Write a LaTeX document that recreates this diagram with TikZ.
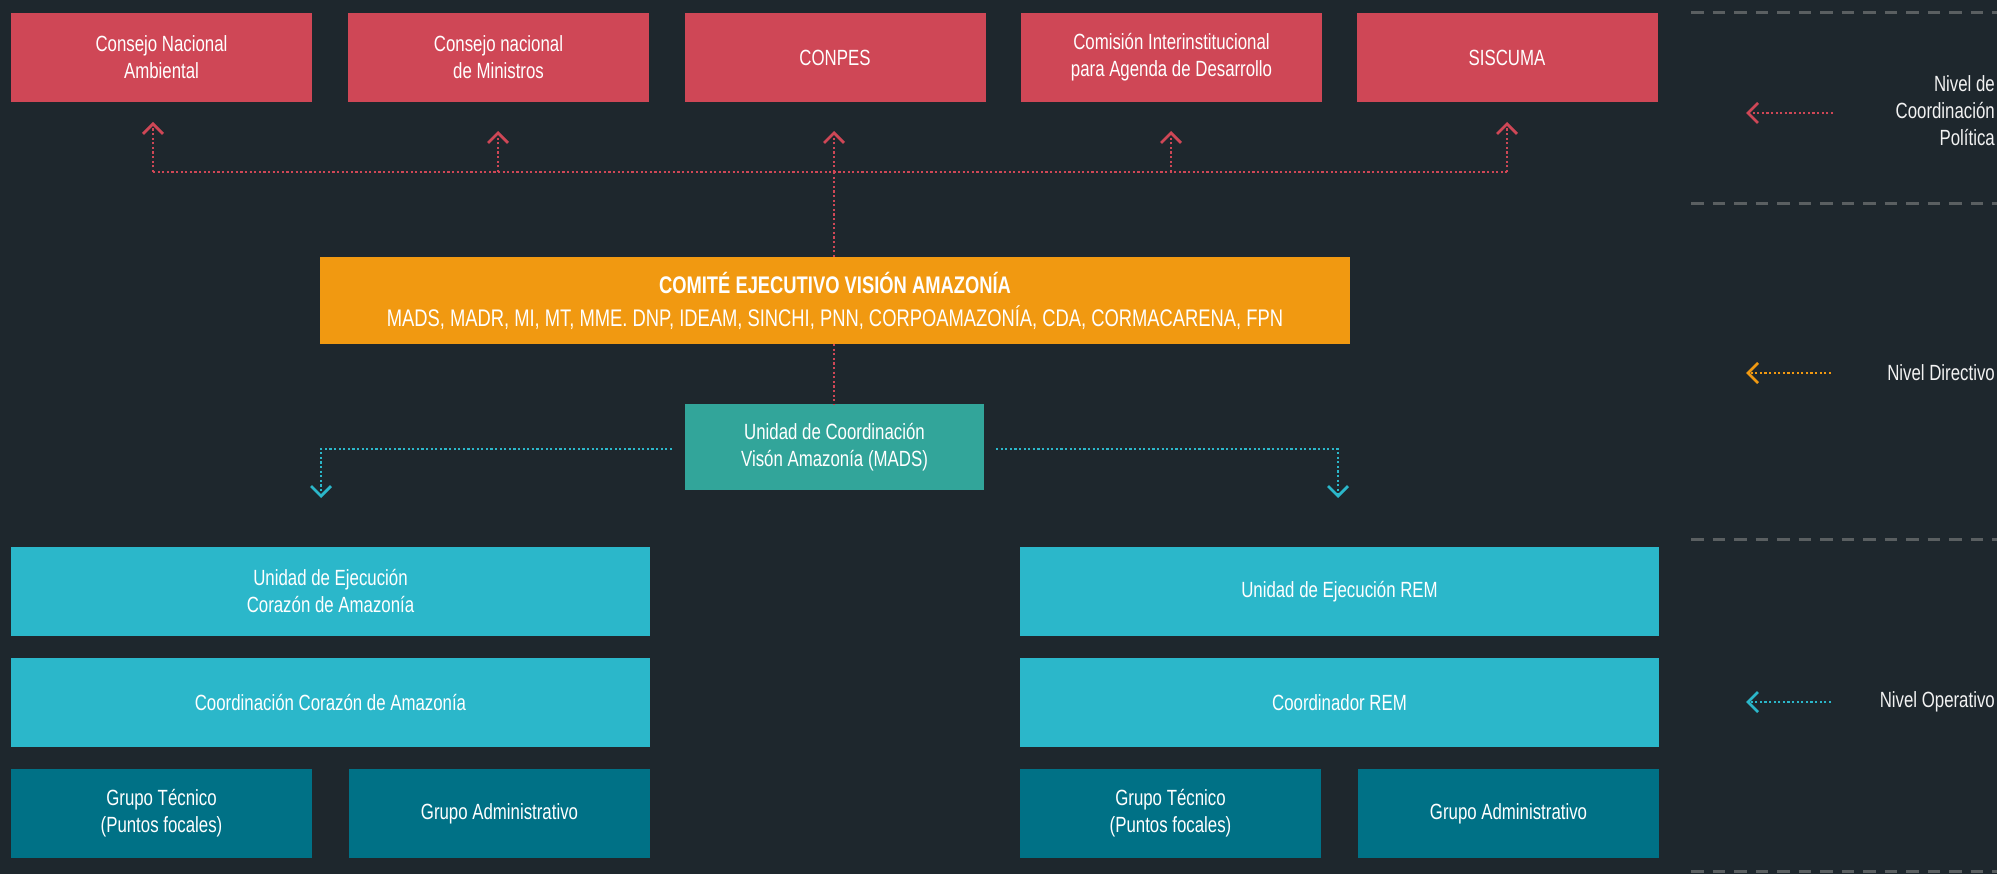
\documentclass[tikz,border=0pt]{standalone}
\usepackage{fontspec}
\setmainfont{Liberation Sans}[FakeStretch=0.765]
\usetikzlibrary{arrows.meta,calc}
\definecolor{bg}{HTML}{1E272D}
\definecolor{cred}{HTML}{CF4756}
\definecolor{corange}{HTML}{F19911}
\definecolor{cteal}{HTML}{32A59A}
\definecolor{ccyan}{HTML}{2BB7CA}
\definecolor{cdark}{HTML}{007186}
\definecolor{cgray}{HTML}{5A5F61}
\definecolor{ctext}{HTML}{F2F2F2}
\begin{document}
\begin{tikzpicture}[x=1pt,y=-1pt,
  box/.style={rectangle, inner sep=0pt, outer sep=0pt, text=white, align=center,
    font=\fontsize{22}{27}\selectfont, minimum height=89pt},
  redbox/.style={box, fill=cred, minimum width=301pt},
  widebox/.style={box, fill=ccyan, minimum width=639pt},
  smallbox/.style={box, fill=cdark, minimum width=301pt},
  dots/.style={line width=2.2pt, dash pattern=on 2.2pt off 2.4pt},
  tipped/.style={-{Straight Barb[length=10pt,width=20pt,line width=0.6pt 1]}},
  sep/.style={cgray, line width=3pt, dash pattern=on 12.5pt off 9pt},
  legend/.style={text=ctext, align=right, anchor=east, inner sep=0pt,
    font=\fontsize{22}{27}\selectfont},
]
\useasboundingbox (0,0) rectangle (1997,874);
\fill[bg] (0,0) rectangle (1997,874);

% separators
\foreach \yy in {13,204,539,871}
  \draw[sep] (1691,\yy) -- (1997,\yy);

% top row
\node[redbox] (b1) at (161.5,57.5) {Consejo Nacional\\Ambiental};
\node[redbox] (b2) at (498.5,57.5) {Consejo nacional\\de Ministros};
\node[redbox] (b3) at (835,57.5) {CONPES};
\node[redbox] (b4) at (1171.5,57.5) {Comisión Interinstitucional\\para Agenda de Desarrollo};
\node[redbox] (b5) at (1507,57.5) {SISCUMA};

% executive committee
\node[box, fill=corange, minimum width=1030pt, minimum height=87pt] (ce) at (835,300.5)
  {{\fontsize{24}{27}\selectfont\bfseries COMITÉ EJECUTIVO VISIÓN AMAZONÍA}\\[6pt]
   {\fontsize{24}{27}\selectfont MADS, MADR, MI, MT, MME. DNP, IDEAM, SINCHI, PNN, CORPOAMAZONÍA, CDA, CORMACARENA, FPN}};

% coordination unit
\node[box, fill=cteal, minimum width=299pt, minimum height=86pt] (uc) at (834.5,447)
  {Unidad de Coordinación\\Visón Amazonía (MADS)};

% left column
\node[widebox] (l1) at (330.5,591.5) {Unidad de Ejecución\\Corazón de Amazonía};
\node[widebox] (l2) at (330.5,702.5) {Coordinación Corazón de Amazonía};
\node[smallbox] (l3) at (161.5,813.5) {Grupo Técnico\\(Puntos focales)};
\node[smallbox] (l4) at (499.5,813.5) {Grupo Administrativo};

% right column
\node[widebox] (r1) at (1339.5,591.5) {Unidad de Ejecución REM};
\node[widebox] (r2) at (1339.5,702.5) {Coordinador REM};
\node[smallbox] (r3) at (1170.5,813.5) {Grupo Técnico\\(Puntos focales)};
\node[smallbox] (r4) at (1508.5,813.5) {Grupo Administrativo};

% red connectors
\coordinate (h1) at (153,172);
\coordinate (h2) at (498,172);
\coordinate (h3) at (834,172);
\coordinate (h4) at (1171,172);
\coordinate (h5) at (1507,172);
\coordinate (t1) at (153,122);
\coordinate (t2) at (498,131);
\coordinate (t3) at (834,131);
\coordinate (t4) at (1171,131);
\coordinate (t5) at (1507,122);
\draw[cred, dots] (h1) -- (h5);
\foreach \i in {1,...,5}
  \draw[cred, dots, tipped] (h\i) -- (t\i);
\draw[cred, dots] (h3) -- (h3 |- ce.north);
\draw[cred, dots] (ce.south -| h3) -- (uc.north -| h3);

% cyan connectors
\coordinate (cl0) at ($(uc.west)+(-13,2)$);
\coordinate (cl1) at (321,449);
\coordinate (cl2) at (321,498);
\coordinate (cr0) at ($(uc.east)+(12,2)$);
\coordinate (cr1) at (1338,449);
\coordinate (cr2) at (1338,498);
\draw[ccyan, dots, tipped] (cl0) -- (cl1) -- (cl2);
\draw[ccyan, dots, tipped] (cr0) -- (cr1) -- (cr2);

% legend
\node[legend] (lg1) at (1995,111) {Nivel de\\Coordinación\\Política};
\node[legend] (lg2) at (1995,373) {Nivel Directivo};
\node[legend] (lg3) at (1995,702) {Nivel Operativo};
\coordinate (a1s) at (1833,113);
\coordinate (a1e) at (1746,113);
\coordinate (a2s) at (1831,373);
\coordinate (a2e) at (1746,373);
\coordinate (a3s) at (1831,702);
\coordinate (a3e) at (1746,702);
\draw[cred, dots, tipped] (a1s) -- (a1e);
\draw[corange, dots, tipped] (a2s) -- (a2e);
\draw[ccyan, dots, tipped] (a3s) -- (a3e);
\end{tikzpicture}
\end{document}
